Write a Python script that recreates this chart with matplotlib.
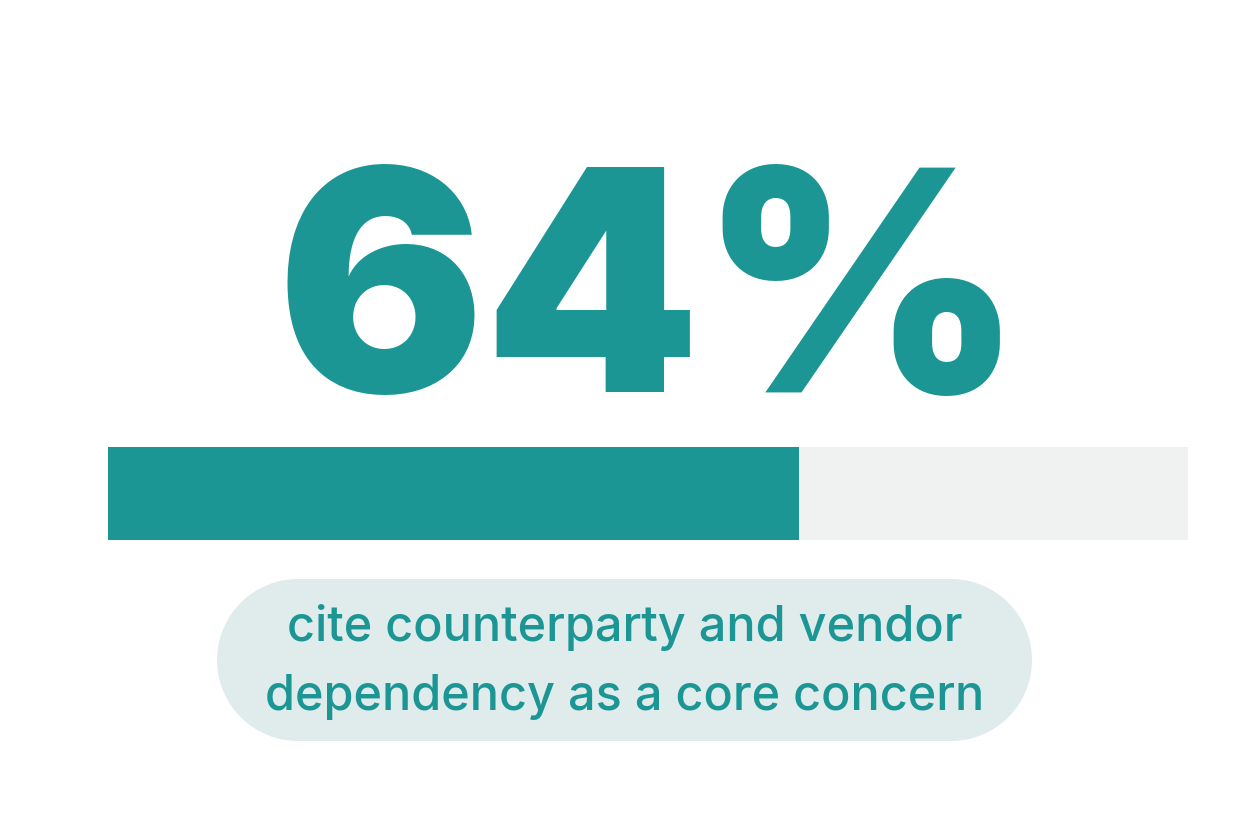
import matplotlib.pyplot as plt
from matplotlib.patches import Rectangle, Circle

# data
stat_value = 64
stat_total = 100
stat_label = "64%"
caption_lines = ["cite counterparty and vendor", "dependency as a core concern"]

teal = "#1B9694"
track = "#F0F2F1"
pill_bg = "#DFECEB"

W, H = 1250, 834
fig = plt.figure(figsize=(W / 100, H / 100), dpi=100)
fig.patch.set_facecolor("white")

# background axes in pixel units for the caption pill
bg = fig.add_axes([0, 0, 1, 1])
bg.set_xlim(0, W)
bg.set_ylim(H, 0)
bg.axis("off")

# pill = rectangle with two half-circle ends
px0, px1, py0, py1 = 217, 1032, 579, 741
r = (py1 - py0) / 2
bg.add_patch(Rectangle((px0 + r, py0), px1 - px0 - 2 * r, py1 - py0,
                       facecolor=pill_bg, edgecolor="none"))
for cx in (px0 + r, px1 - r):
    bg.add_patch(Circle((cx, py0 + r), r, facecolor=pill_bg, edgecolor="none"))

# big number
bg.text(650, 392, stat_label, ha="center", va="baseline",
        fontsize=222, fontweight="black", family=["Inter", "DejaVu Sans"], color=teal)

# progress bar
ax = fig.add_axes([108 / W, 1 - 540 / H, 1080 / W, 93 / H])
ax.barh(0, stat_total, height=1, color=track)
ax.barh(0, stat_value, height=1, color=teal)
ax.set_xlim(0, stat_total)
ax.set_ylim(-0.5, 0.5)
ax.axis("off")

for i, line in enumerate(caption_lines):
    bg.text(625, 641 + 69 * i, line, ha="center", va="baseline",
            fontsize=35, fontweight="medium", family=["Inter", "DejaVu Sans"], color=teal)

fig.savefig("out.png", dpi=100)
